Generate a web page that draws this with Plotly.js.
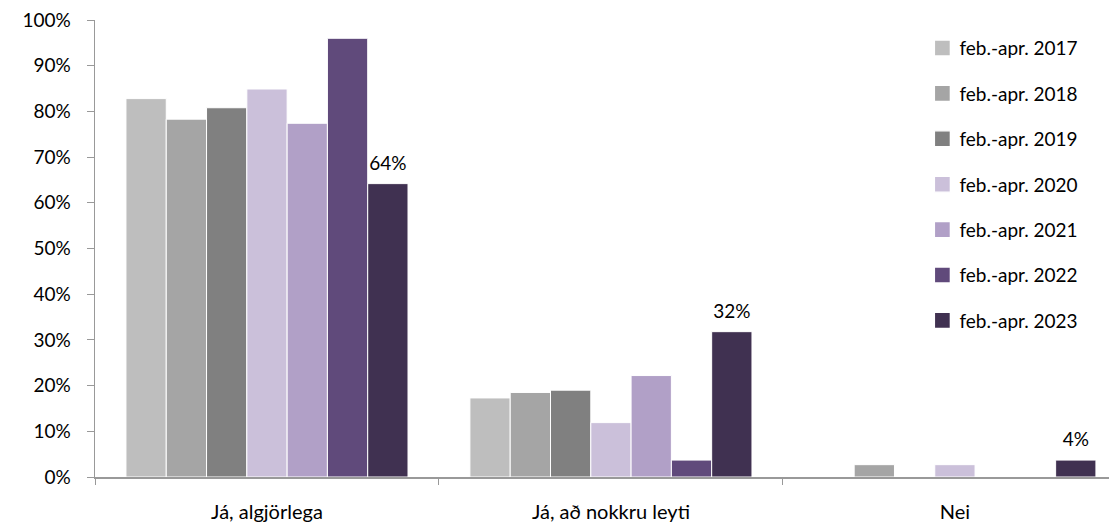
<!DOCTYPE html>
<html><head><meta charset="utf-8">
<script src="https://cdn.plot.ly/plotly-3.0.1.min.js"></script>
<style>html,body{margin:0;padding:0;background:#fff}#chart{width:1109px;height:526px}</style>
</head><body><div id="chart"></div>
<script>
const categories = ["Já, algjörlega", "Já, að nokkru leyti", "Nei"];
const seriesNames = ["feb.-apr. 2017","feb.-apr. 2018","feb.-apr. 2019","feb.-apr. 2020","feb.-apr. 2021","feb.-apr. 2022","feb.-apr. 2023"];
const v2017 = [0.828, 0.173, 0];
const v2018 = [0.783, 0.185, 0.027];
const v2019 = [0.808, 0.19, 0];
const v2020 = [0.849, 0.119, 0.027];
const v2021 = [0.774, 0.222, 0];
const v2022 = [0.960, 0.037, 0];
const v2023 = [0.642, 0.318, 0.037];
const labels2023 = ["64%", "32%", "4%"];
const colors = ["#BEBEBE","#A5A5A5","#808080","#CBC0DA","#B1A0C7","#604A7B","#403151"];
const values = [v2017, v2018, v2019, v2020, v2021, v2022, v2023];

const FONT = "Lato, Open Sans, sans-serif";
const traces = values.map((v, i) => {
  const t = {
    type: "bar", x: categories, y: v, name: seriesNames[i],
    legendgroup: "g" + i,
    marker: {color: colors[i], line: {color: "#ffffff", width: 1}},
    hoverinfo: "skip"
  };
  if (i === 6) {
    t.text = labels2023;
    t.textposition = "outside";
    t.cliponaxis = false;
    t.textfont = {family: FONT, size: 19, color: "#000"};
  }
  return t;
});

const layout = {
  width: 1109, height: 526,
  margin: {l: 95, r: 0, t: 20, b: 49},
  paper_bgcolor: "#fff", plot_bgcolor: "#fff",
  barmode: "group", bargap: 0.18, bargroupgap: 0,
  font: {family: FONT, size: 19, color: "#000"},
  xaxis: {
    type: "category", range: [-0.5, 2.448],
    showline: true, linecolor: "#999", linewidth: 1.5,
    ticks: "outside", tickson: "boundaries", ticklen: 6, tickcolor: "#999",
    ticklabelstandoff: 16,
    showgrid: false, zeroline: false,
    tickfont: {family: FONT, size: 20, color: "#000"}
  },
  yaxis: {
    range: [0, 1], dtick: 0.1, tickformat: ".0%",
    showline: true, linecolor: "#999", linewidth: 1.5,
    ticks: "outside", ticklen: 7, tickcolor: "#999",
    ticklabelstandoff: 12,
    showgrid: false, zeroline: false,
    tickfont: {family: FONT, size: 19, color: "#000"}
  },
  showlegend: true,
  legend: {
    x: 0.813, y: 0.98, xanchor: "left", yanchor: "top",
    traceorder: "grouped", tracegroupgap: 17.7,
    font: {family: FONT, size: 19, color: "#000"},
    bgcolor: "rgba(0,0,0,0)", itemclick: false
  }
};
Plotly.newPlot("chart", traces, layout, {staticPlot: true}).then(gd => {
  gd.querySelectorAll(".legendpoints path").forEach(p => {
    const tr = p.getAttribute("transform") || "";
    p.setAttribute("transform", tr + " translate(3,0) scale(1.33)");
  });
  gd.querySelectorAll(".bartext").forEach(t => {
    const tr = t.getAttribute("transform") || "";
    t.setAttribute("transform", "translate(0,-7) " + tr);
  });
});
</script></body></html>
